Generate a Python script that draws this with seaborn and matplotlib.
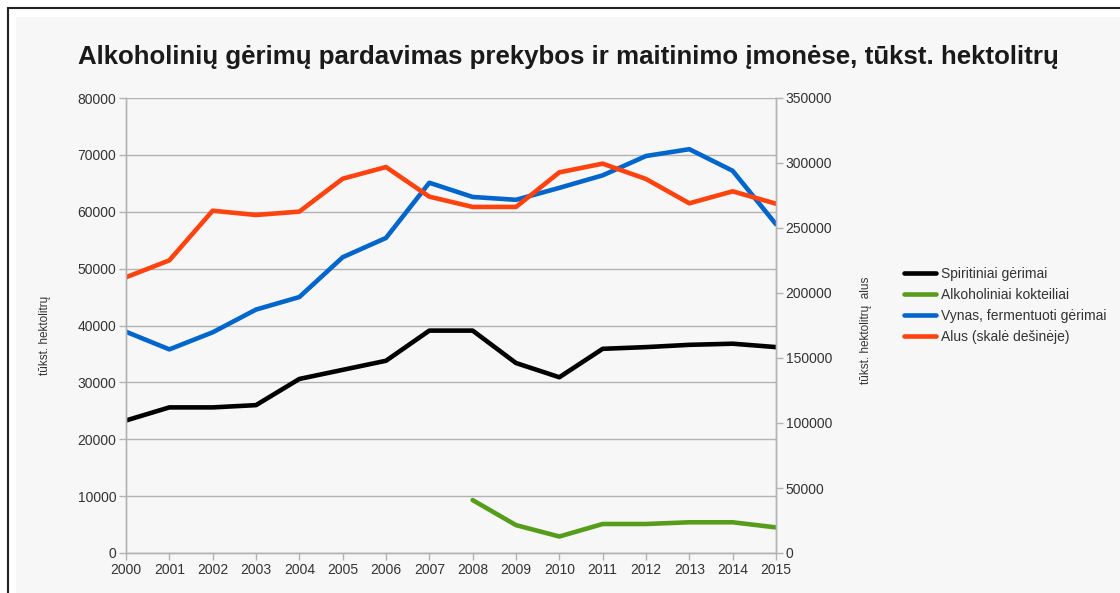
import seaborn as sns
import pandas as pd
import numpy as np
import matplotlib
matplotlib.use("Agg")
import matplotlib.pyplot as plt
from matplotlib.patches import Rectangle

## Duomenys (tūkst. hektolitrų)

metai = list(range(2000, 2016))
spiritiniai = [23300, 25600, 25600, 26000, 30600, 32200, 33800, 39100,
               39100, 33400, 30900, 35900, 36200, 36600, 36800, 36200]
metai_kokteiliai = list(range(2008, 2016))
kokteiliai = [9300, 4900, 2900, 5100, 5100, 5400, 5400, 4500]
vynas = [38900, 35800, 38800, 42800, 45000, 52000, 55400, 65100,
         62600, 62100, 64200, 66400, 69800, 71000, 67200, 57800]
alus = [212100, 225100, 263300, 260000, 262600, 287900, 296900, 274100,
        266200, 266200, 292800, 299500, 287700, 269000, 278200, 268700]

pavadinimai = ["Spiritiniai gėrimai", "Alkoholiniai kokteiliai",
               "Vynas, fermentuoti gėrimai", "Alus (skalė dešinėje)"]
spalvos = ["#000000", "#579d1c", "#0066cc", "#ff420e"]

sns.set_style("white")
plt.rcParams['font.family'] = ['Liberation Sans', 'DejaVu Sans']

fon = "#f7f7f7"
pilka = "#b3b3b3"
tekstas = "#333333"

fig = plt.figure(figsize=(11.2, 5.93), dpi=100, facecolor="white")

# rėmelis ir pilkas fonas
fig.patches.append(Rectangle((8 / 1120, -0.1), 1.2, 1 - 8 / 593 + 0.1,
                             transform=fig.transFigure, facecolor="white",
                             edgecolor="#222222", linewidth=1.5, zorder=-2))
fig.patches.append(Rectangle((16 / 1120, -0.1), 1.2, 1 - 17 / 593 + 0.1,
                             transform=fig.transFigure, facecolor=fon,
                             edgecolor="none", zorder=-1))

ax = fig.add_axes([126 / 1120, 1 - 553 / 593, 650 / 1120, 455 / 593])
ax.set_facecolor(fon)
ax2 = ax.twinx()

lw = 3.3
sns.lineplot(x=metai, y=spiritiniai, ax=ax, color=spalvos[0], linewidth=lw, label=pavadinimai[0], legend=False)
sns.lineplot(x=metai_kokteiliai, y=kokteiliai, ax=ax, color=spalvos[1], linewidth=lw, label=pavadinimai[1], legend=False)
sns.lineplot(x=metai, y=vynas, ax=ax, color=spalvos[2], linewidth=lw, label=pavadinimai[2], legend=False)
sns.lineplot(x=metai, y=alus, ax=ax2, color=spalvos[3], linewidth=lw, label=pavadinimai[3], legend=False)

ax.set_xlim(2000, 2015)
ax.set_ylim(0, 80000)
ax2.set_ylim(0, 350000)
ax.set_xticks(metai)
ax.set_yticks(np.arange(0, 80001, 10000))
ax2.set_yticks(np.arange(0, 350001, 50000))

ax.grid(axis="y", color=pilka, linewidth=1)
ax.grid(axis="x", visible=False)
ax2.grid(False)
ax.set_axisbelow(True)

for a in (ax, ax2):
    for s in a.spines.values():
        s.set_color(pilka)
        s.set_linewidth(1)
    a.spines["top"].set_visible(False)
    a.tick_params(colors=pilka, labelcolor=tekstas, labelsize=10, length=5, width=1, direction="out")
ax.tick_params(axis="x", pad=2)
ax.tick_params(axis="y", left=True, pad=2)
ax2.tick_params(axis="y", right=True, pad=2)
ax.tick_params(axis="x", bottom=True)

ax.set_xlabel("")
ax.set_ylabel("")
fig.text(45 / 1120, 1 - 335 / 593, "tūkst. hektolitrų", rotation=90,
         ha="center", va="center", fontsize=8.5, color=tekstas)
fig.text(866 / 1120, 1 - 330 / 593, "tūkst. hektolitrų  alus", rotation=90,
         ha="center", va="center", fontsize=8.5, color=tekstas)

fig.text(568 / 1120, 1 - 57 / 593,
         "Alkoholinių gėrimų pardavimas prekybos ir maitinimo įmonėse, tūkst. hektolitrų",
         ha="center", va="center", fontsize=18.6, fontweight="bold", color="#1a1a1a")

h1, l1 = ax.get_legend_handles_labels()
h2, l2 = ax2.get_legend_handles_labels()
leg = fig.legend(h1 + h2, l1 + l2, loc="center left",
                 bbox_to_anchor=(897 / 1120, 1 - 305.5 / 593), frameon=False,
                 fontsize=10, handlelength=2.3, handletextpad=0.4,
                 labelspacing=0.5, borderpad=0)
for t in leg.get_texts():
    t.set_color(tekstas)

plt.savefig("out.png", dpi=100, facecolor="white")
